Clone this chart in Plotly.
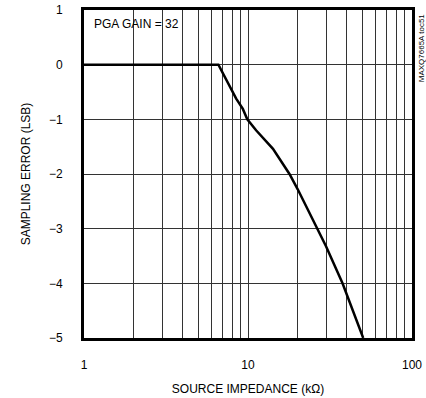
import plotly.graph_objects as go

# Data
impedance_kohm = [1, 6.6, 8.47, 9.3, 9.9, 11.2, 14.2, 17.9, 20.1, 29.9, 37.7, 50.4]
sampling_error_lsb = [0, 0, -0.62, -0.81, -1.0, -1.2, -1.54, -2.0, -2.28, -3.32, -4.0, -5.0]

x_grid_vals = [1, 2, 3, 4, 5, 6, 7, 8, 9, 10, 20, 30, 40, 50, 60, 70, 80, 90, 100]
x_tick_labels = ["1", "", "", "", "", "", "", "", "", "10", "", "", "", "", "", "", "", "", "100"]
y_tick_vals = [1, 0, -1, -2, -3, -4, -5]

FONT = "Liberation Sans Narrow, Arial Narrow, Liberation Sans, sans-serif"

fig = go.Figure()
fig.add_trace(go.Scatter(
    x=impedance_kohm, y=sampling_error_lsb, mode="lines",
    line=dict(color="black", width=2.5),
    showlegend=False, hoverinfo="skip"))

fig.update_xaxes(
    type="log", range=[0, 2], tickvals=x_grid_vals, ticktext=x_tick_labels,
    showgrid=True, gridcolor="#333", gridwidth=1,
    showline=True, linecolor="black", linewidth=3, mirror=True,
    ticks="outside", ticklen=14, tickcolor="rgba(0,0,0,0)",
    zeroline=False, automargin=False,
    title=dict(text="SOURCE IMPEDANCE (kΩ)", font=dict(size=12, color="black"), standoff=14),
    tickfont=dict(size=12, color="black"))

fig.update_yaxes(
    range=[-5, 1], tickvals=y_tick_vals,
    showgrid=True, gridcolor="#333", gridwidth=1,
    showline=True, linecolor="black", linewidth=3, mirror=True,
    ticks="outside", ticklen=16, tickcolor="rgba(0,0,0,0)",
    zeroline=False, automargin=False,
    title=dict(text="SAMPLING ERROR (LSB)", font=dict(size=12, color="black"), standoff=16),
    tickfont=dict(size=12, color="black"))

fig.add_shape(type="rect", xref="paper", yref="paper",
              x0=0, x1=0.333, y0=0.915, y1=1,
              fillcolor="white", line=dict(width=0), layer="between")

fig.add_annotation(text="PGA GAIN = 32", xref="paper", yref="paper",
                   x=0.025, y=0.958, xanchor="left", yanchor="middle",
                   showarrow=False, font=dict(size=12, color="black"))

fig.add_annotation(text="MAXQ7665A toc51", xref="paper", yref="paper",
                   x=1.008, y=0.995, xanchor="left", yanchor="top", textangle=-90,
                   showarrow=False, font=dict(size=8, color="black"))

fig.update_layout(
    width=426, height=398,
    margin=dict(l=84, r=14, t=10, b=60),
    paper_bgcolor="white", plot_bgcolor="white",
    font=dict(family=FONT, color="black"))

fig.write_html("out.html", config={"displayModeBar": False},
               post_script="document.body.style.margin='0';")
